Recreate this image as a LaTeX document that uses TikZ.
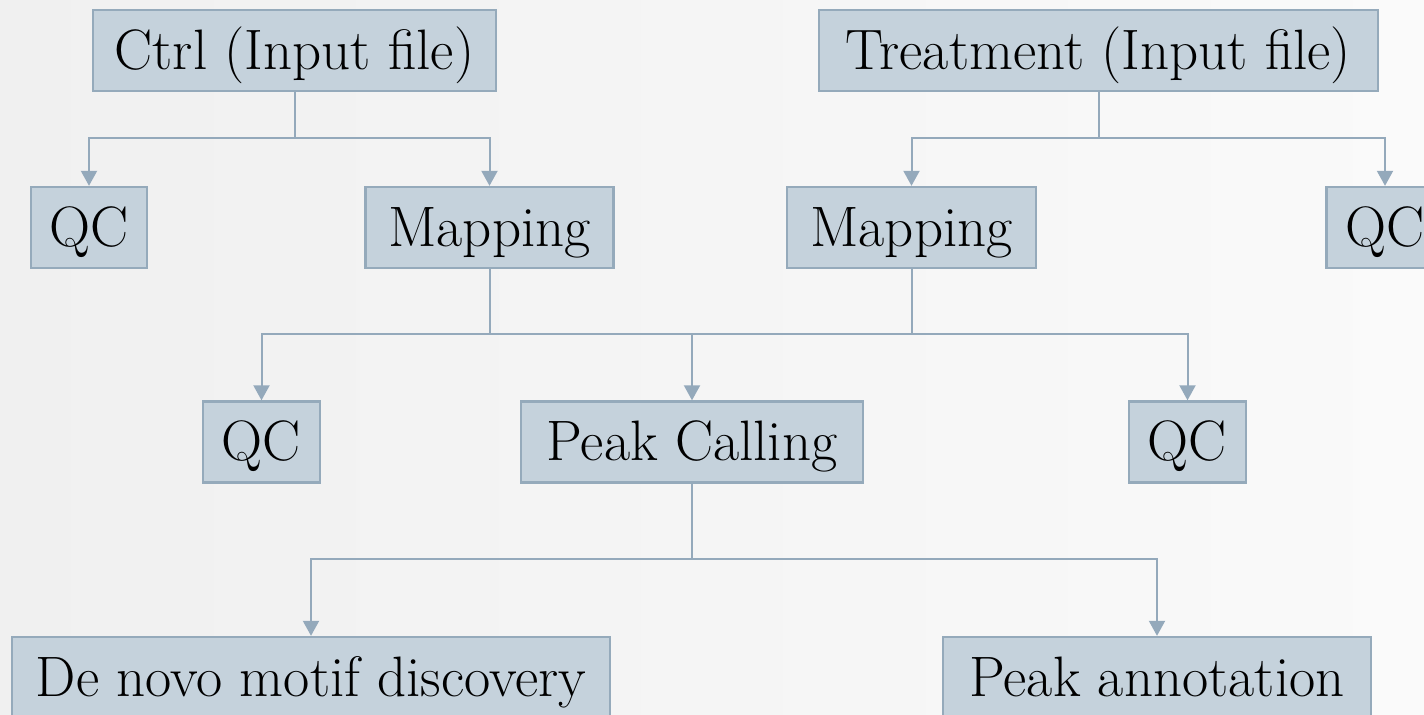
\documentclass[tikz,border=0pt]{standalone}
\usetikzlibrary{arrows.meta}
\definecolor{boxfill}{HTML}{C5D2DC}
\definecolor{boxdraw}{HTML}{95AABB}
\definecolor{linecol}{HTML}{94A9BB}
\definecolor{bgleft}{HTML}{F0F0F0}
\definecolor{bgright}{HTML}{FAFAFA}
\tikzset{
  flowbox/.style={rectangle, draw=boxdraw, fill=boxfill, line width=1.2pt,
    inner sep=0pt, text height=29.5pt, text depth=11pt,
    font=\fontsize{28.5}{32}\selectfont, text=black},
  link/.style={draw=linecol, line width=1pt},
  flowarrow/.style={link, -{Triangle[width=8pt,length=7.5pt]}}
}
\begin{document}
\begin{tikzpicture}[x=0.5pt,y=-0.5pt]
\clip (0,0) rectangle (1424,714);
\shade[left color=bgleft, right color=bgright] (0,0) rectangle (1424,714);
\useasboundingbox (0,0) rectangle (1424,714);

\node[flowbox, minimum width=201.5pt, minimum height=40.5pt] (ctrl) at (294.5,50.5) {Ctrl (Input file)};
\node[flowbox, minimum width=279.5pt, minimum height=40.5pt] (treat) at (1098.5,50.5) {Treatment (Input file)};

\node[flowbox, minimum width=58pt, minimum height=40.5pt] (qc1) at (89,227.5) {QC};
\node[flowbox, minimum width=124pt, minimum height=40.5pt] (map1) at (489.5,227.5) {Mapping};
\node[flowbox, minimum width=124.5pt, minimum height=40.5pt] (map2) at (911.5,227.5) {Mapping};
\node[flowbox, minimum width=58.5pt, minimum height=40.5pt] (qc2) at (1385,227.5) {QC};

\node[flowbox, minimum width=58.5pt, minimum height=40.5pt] (qc3) at (261.5,442) {QC};
\node[flowbox, minimum width=171pt, minimum height=40.5pt] (peak) at (692,442) {Peak Calling};
\node[flowbox, minimum width=58.5pt, minimum height=40.5pt] (qc4) at (1187.5,442) {QC};

\node[flowbox, minimum width=299pt, minimum height=40.5pt] (denovo) at (311,677.5) {De novo motif discovery};
\node[flowbox, minimum width=214pt, minimum height=40.5pt] (annot) at (1157,677.5) {Peak annotation};

\coordinate (j1) at (294.5,138);
\coordinate (j2) at (1098.5,138);
\coordinate (j3) at (692,334);
\coordinate (j4) at (692,559);

\draw[link] (ctrl.south) -- (j1);
\draw[flowarrow] (j1) -| (qc1.north);
\draw[flowarrow] (j1) -| (map1.north);

\draw[link] (treat.south) -- (j2);
\draw[flowarrow] (j2) -| (map2.north);
\draw[flowarrow] (j2) -| (qc2.north);

\draw[link] (map1.south) |- (j3);
\draw[link] (map2.south) |- (j3);
\draw[flowarrow] (j3) -| (qc3.north);
\draw[flowarrow] (j3) -- (peak.north);
\draw[flowarrow] (j3) -| (qc4.north);

\draw[link] (peak.south) -- (j4);
\draw[flowarrow] (j4) -| (denovo.north);
\draw[flowarrow] (j4) -| (annot.north);
\end{tikzpicture}
\end{document}
